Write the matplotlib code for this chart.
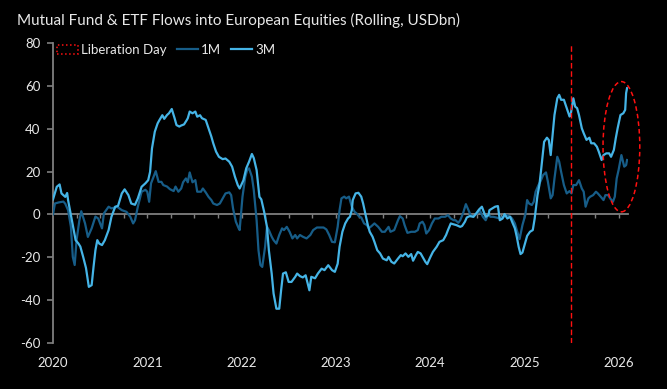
import numpy as np
import matplotlib
matplotlib.use("Agg")
import matplotlib.pyplot as plt
from matplotlib.patches import Ellipse, Patch
from matplotlib.lines import Line2D

plt.rcParams['font.family'] = ['Lato', 'DejaVu Sans']

# --- data (decimal year, USDbn) ---
t_3m = [2020.00, 2020.04, 2020.07, 2020.09, 2020.13, 2020.15, 2020.16, 2020.19, 2020.22, 2020.24,
        2020.27, 2020.29, 2020.32, 2020.35, 2020.38, 2020.41, 2020.43, 2020.45, 2020.47, 2020.49,
        2020.52, 2020.55, 2020.59, 2020.62, 2020.66, 2020.69, 2020.73, 2020.76, 2020.80, 2020.83,
        2020.87, 2020.90, 2020.94, 2020.98, 2021.01, 2021.03, 2021.05, 2021.08, 2021.11, 2021.13,
        2021.16, 2021.18, 2021.21, 2021.23, 2021.26, 2021.29, 2021.31, 2021.34, 2021.36, 2021.39,
        2021.42, 2021.43, 2021.45, 2021.48, 2021.51, 2021.53, 2021.56, 2021.58, 2021.62, 2021.65,
        2021.68, 2021.70, 2021.73, 2021.76, 2021.80, 2021.83, 2021.87, 2021.90, 2021.93, 2021.96,
        2021.98, 2022.02, 2022.05, 2022.08, 2022.11, 2022.13, 2022.16, 2022.19, 2022.21, 2022.24,
        2022.27, 2022.29, 2022.32, 2022.34, 2022.37, 2022.40, 2022.42, 2022.44, 2022.47, 2022.50,
        2022.53, 2022.57, 2022.59, 2022.62, 2022.65, 2022.68, 2022.72, 2022.74, 2022.78, 2022.81,
        2022.85, 2022.88, 2022.92, 2022.96, 2022.99, 2023.02, 2023.04, 2023.07, 2023.10, 2023.13,
        2023.15, 2023.17, 2023.18, 2023.21, 2023.24, 2023.27, 2023.29, 2023.32, 2023.34, 2023.36,
        2023.39, 2023.41, 2023.44, 2023.47, 2023.50, 2023.54, 2023.56, 2023.59, 2023.62, 2023.66,
        2023.69, 2023.71, 2023.74, 2023.77, 2023.80, 2023.82, 2023.85, 2023.87, 2023.90, 2023.93,
        2023.95, 2023.97, 2024.00, 2024.03, 2024.07, 2024.10, 2024.14, 2024.17, 2024.19, 2024.22,
        2024.24, 2024.28, 2024.32, 2024.34, 2024.37, 2024.39, 2024.42, 2024.46, 2024.49, 2024.52,
        2024.55, 2024.57, 2024.59, 2024.62, 2024.63, 2024.66, 2024.69, 2024.72, 2024.74, 2024.77,
        2024.79, 2024.82, 2024.85, 2024.87, 2024.90, 2024.92, 2024.94, 2024.96, 2024.98, 2025.01,
        2025.03, 2025.06, 2025.09, 2025.11, 2025.14, 2025.16, 2025.18, 2025.21, 2025.24, 2025.26,
        2025.28, 2025.30, 2025.32, 2025.35, 2025.37, 2025.39, 2025.42, 2025.45, 2025.48, 2025.49,
        2025.52, 2025.54, 2025.56, 2025.58, 2025.61, 2025.63, 2025.66, 2025.69, 2025.71, 2025.74,
        2025.77, 2025.79, 2025.82, 2025.84, 2025.87, 2025.90, 2025.92, 2025.95, 2025.97, 2025.99,
        2026.02, 2026.05, 2026.07, 2026.08, 2026.09]
v_3m = [7, 12.9, 14, 9.8, 8.2, 10, 6.7, -0.3, -7.3, -12,
        -13.6, -15, -19.8, -25, -33.8, -33, -24.5, -16.7, -12, -13.6,
        -14.3, -12, -7.3, -1.1, 3.6, 4, 9.8, 11.7, 9, 5.1,
        4.5, 7.5, 12.9, 14.5, 16, 19.9, 30.8, 38.6, 42.5, 44.1,
        46.3, 44.6, 46.4, 47.2, 49.2, 44.9, 41.7, 41, 41.5, 42,
        44.1, 44.9, 48, 47.2, 48, 45.6, 46.3, 44.9, 44.1, 40.2,
        36.3, 33.2, 29.3, 26.9, 25.8, 26.1, 24.6, 22.3, 17.6, 13.7,
        12.1, 15.9, 21.5, 24.6, 28.2, 26.3, 20.7, 8.2, 7, 1.2,
        -5.8, -16.7, -27.6, -36.9, -44, -44, -35.4, -27.6, -27, -31.5,
        -31.5, -29.1, -27.6, -28.8, -29.4, -28.4, -35.4, -29.1, -29.8, -27.6,
        -25.3, -26, -23.7, -26, -26.8, -23, -15.1, -8.1, -4.2, -1.9,
        -1.1, 2, 6.7, 9.8, 10.1, 8.3, 5.1, -1.1, -5, -8.1,
        -10.4, -12.8, -16.7, -18.2, -20.6, -21.4, -19.8, -22.1, -22.9, -20.6,
        -19, -19.5, -18.2, -19.8, -18.5, -21.6, -19, -17.5, -18.2, -20.6,
        -22.1, -23.2, -20.2, -17.5, -15.1, -12.8, -12, -9.6, -7.3, -4.2,
        -4.5, -5, -5.8, -5.4, -3.4, -1.4, -0.8, -1.1, 0.5, 2.3,
        3.6, 1.2, -1.1, -0.3, 2, 2.8, 3.6, 3.9, -2.7, -1.9,
        0.2, -1.9, -1.1, -3.4, -6.5, -10.4, -15.1, -18.5, -17.8, -13.2,
        -10, -8.1, -7.3, -1.9, 9, 13.7, 21.5, 33.9, 35.8, 34.7,
        27.7, 37, 46.4, 54.2, 55.8, 53.5, 53.5, 49.6, 45.7, 46.1,
        54.2, 50.3, 49.6, 46.4, 40.2, 37.9, 34.8, 35.8, 33.2, 33.2,
        31.6, 29.3, 25.4, 27.7, 28.5, 28.5, 26.9, 30.1, 35.5, 40.2,
        46.4, 47.2, 48.8, 56.6, 58.9]

t_1m = [2020.00, 2020.02, 2020.06, 2020.11, 2020.13, 2020.16, 2020.19, 2020.21, 2020.23, 2020.25,
        2020.28, 2020.30, 2020.34, 2020.37, 2020.41, 2020.45, 2020.48, 2020.52, 2020.54, 2020.59,
        2020.62, 2020.68, 2020.73, 2020.78, 2020.82, 2020.85, 2020.87, 2020.90, 2020.94, 2020.98,
        2021.00, 2021.02, 2021.04, 2021.06, 2021.09, 2021.12, 2021.15, 2021.17, 2021.21, 2021.24,
        2021.28, 2021.30, 2021.33, 2021.36, 2021.38, 2021.41, 2021.43, 2021.45, 2021.48, 2021.51,
        2021.53, 2021.57, 2021.59, 2021.62, 2021.65, 2021.68, 2021.70, 2021.74, 2021.77, 2021.80,
        2021.83, 2021.87, 2021.89, 2021.91, 2021.94, 2021.97, 2021.98, 2022.01, 2022.04, 2022.06,
        2022.08, 2022.11, 2022.13, 2022.16, 2022.18, 2022.20, 2022.22, 2022.25, 2022.27, 2022.29,
        2022.32, 2022.34, 2022.37, 2022.40, 2022.43, 2022.45, 2022.48, 2022.51, 2022.54, 2022.57,
        2022.59, 2022.62, 2022.65, 2022.69, 2022.73, 2022.76, 2022.80, 2022.83, 2022.87, 2022.90,
        2022.93, 2022.96, 2022.99, 2023.02, 2023.04, 2023.06, 2023.09, 2023.11, 2023.14, 2023.17,
        2023.20, 2023.22, 2023.25, 2023.27, 2023.30, 2023.33, 2023.35, 2023.38, 2023.41, 2023.45,
        2023.49, 2023.52, 2023.56, 2023.58, 2023.62, 2023.66, 2023.68, 2023.71, 2023.73, 2023.76,
        2023.80, 2023.84, 2023.87, 2023.89, 2023.92, 2023.94, 2023.96, 2023.99, 2024.02, 2024.05,
        2024.09, 2024.12, 2024.16, 2024.19, 2024.22, 2024.25, 2024.27, 2024.30, 2024.32, 2024.35,
        2024.38, 2024.40, 2024.43, 2024.46, 2024.49, 2024.53, 2024.56, 2024.59, 2024.62, 2024.64,
        2024.67, 2024.70, 2024.74, 2024.78, 2024.82, 2024.85, 2024.87, 2024.90, 2024.92, 2024.95,
        2024.98, 2025.01, 2025.03, 2025.05, 2025.08, 2025.10, 2025.12, 2025.15, 2025.17, 2025.20,
        2025.23, 2025.25, 2025.28, 2025.30, 2025.32, 2025.35, 2025.37, 2025.39, 2025.42, 2025.45,
        2025.48, 2025.50, 2025.52, 2025.55, 2025.58, 2025.61, 2025.63, 2025.65, 2025.68, 2025.70,
        2025.73, 2025.76, 2025.78, 2025.81, 2025.84, 2025.86, 2025.89, 2025.91, 2025.94, 2025.96,
        2025.98, 2026.00, 2026.03, 2026.06, 2026.08, 2026.09]
v_1m = [0, 5.1, 5.6, 6, 5, 2, -5.8, -19.8, -23.6, -12,
        -2.7, 1.5, -4.2, -10.5, -6.5, -1, -1.9, -6.5, 0.5, 3.6,
        2.8, 3.6, 2, 1.2, -1.1, -4.2, -2.7, 3.6, 10.6, 11.5,
        10.6, 5.9, 14.5, 16.8, 20.2, 15.2, 15.2, 13.7, 13, 11.8,
        10.9, 13, 10.6, 12.1, 15, 16.8, 15, 19.6, 15, 16,
        10.6, 10.6, 12.1, 10.3, 8.2, 6.7, 5.1, 4.4, 5.1, 7.5,
        9.8, 10.3, 9, 2.8, -3.4, -6.5, -7.3, 8.2, 17.6, 20.7,
        21.5, 17.6, 11.4, -2.7, -16.7, -23.6, -24.5, -15.1, -5.8, -7.3,
        -10.4, -12, -13.6, -9.6, -6.5, -7.3, -5.8, -8.1, -11.2, -9.6,
        -11.2, -9.6, -10.4, -11.2, -9.6, -7.3, -6.1, -6.1, -6.1, -7,
        -9.6, -12.8, -13, -5.8, 2, 7.5, 8.3, 7.5, 8.3, 3.6,
        1.2, 0.5, -1.1, -1.4, -4.2, -5, -6.5, -5.4, -4.2, -5.8,
        -8.1, -8.1, -5.8, -8.1, -7.3, -2.7, -0.8, -1.9, -5, -8.6,
        -8.1, -8.1, -7.3, -4.2, -3.4, -5, -8.9, -7.3, -4.2, -1.9,
        -1.9, -1.1, -1.1, -0.3, -1.9, -2.7, -2.7, -3.9, -2.7, 0.5,
        4.8, 2.8, -0.3, -1.1, 0.2, 1.7, -1.1, -2.7, 0.2, -1.1,
        -1.1, -1.4, -1.9, -1.1, -0.3, -1.1, -1.9, -4.2, -7.3, -11.5,
        -5, -0.3, 6.7, 5.1, 4.4, 5.9, 10.6, 13.7, 15.3, 18.4,
        19.6, 15.3, 7.5, 9, 16.8, 26.9, 24.6, 20, 13.7, 9.8,
        10.9, 9.8, 13.7, 13.7, 16, 12.1, 10.6, 3.6, 7.5, 8.3,
        9, 10.6, 9.8, 8.3, 6.7, 9, 9, 7.5, 5.9, 8.3,
        16.8, 20.7, 27.7, 22.3, 23, 25.4]

liberation_day = 2025.49
year_ticks = [2020, 2021, 2022, 2023, 2024, 2025, 2026]
y_ticks = [-60, -40, -20, 0, 20, 40, 60, 80]

c_1m = '#175d88'
c_3m = '#45b4e6'
red = '#ff1010'
grey = '#7f7f7f'
txt = '#e8e8e8'

fig = plt.figure(figsize=(6.67, 3.89), dpi=100, facecolor='black')
ax = fig.add_axes([53/667, 46/389, 575/667, 300/389], facecolor='black')

ax.plot(t_1m, v_1m, color=c_1m, lw=1.6, label='1M', zorder=3)
ax.plot(t_3m, v_3m, color=c_3m, lw=1.6, label='3M', zorder=4)

ax.axvline(liberation_day, color=red, lw=1.0, ls=(0, (4, 2)), zorder=5)
# highlight ellipse around the latest readings (runs past the right edge of the axes)
ax.add_patch(Ellipse((2026.03, 31.6), width=0.39, height=60.8, fill=False, clip_on=False,
                     edgecolor=red, lw=1.1, ls=(0, (3, 2)), zorder=6))

ax.set_xlim(2020, 2026.1)
ax.set_ylim(-60, 80)
ax.set_yticks(y_ticks)
ax.set_yticklabels([str(v) for v in y_ticks], color=txt, fontsize=9.5)
ax.tick_params(axis='y', colors=grey, labelcolor=txt, length=4, width=1.2, pad=5)

# zero line as the x axis, quarterly ticks pointing down
for s in ['top', 'right']:
    ax.spines[s].set_visible(False)
ax.spines['left'].set_color(grey)
ax.spines['left'].set_linewidth(1.3)
ax.spines['bottom'].set_position(('data', 0))
ax.spines['bottom'].set_color(grey)
ax.spines['bottom'].set_linewidth(1.3)
ax.set_xticks(np.arange(2020.25, 2026.01, 0.25))
ax.tick_params(axis='x', colors=grey, length=3, width=1, labelbottom=False)

sec = ax.secondary_xaxis('bottom')
sec.spines['bottom'].set_visible(False)
sec.set_xticks(year_ticks)
sec.set_xticklabels([str(y) for y in year_ticks], color=txt, fontsize=9.5)
sec.tick_params(length=0, pad=10)

fig.text(17/667, 1 - 20/389, 'Mutual Fund & ETF Flows into European Equities (Rolling, USDbn)',
         color=txt, fontsize=11, va='center', ha='left')

handles = [Patch(facecolor='none', edgecolor=red, ls=':', lw=1.1, label='Liberation Day'),
           Line2D([], [], color=c_1m, lw=1.6, label='1M'),
           Line2D([], [], color=c_3m, lw=1.6, label='3M')]
leg = fig.legend(handles=handles, loc='center left', bbox_to_anchor=(57/667, 1 - 50/389),
                 ncol=3, frameon=False, fontsize=9.5, handlelength=1.6, handletextpad=0.2,
                 columnspacing=0.8, borderpad=0, borderaxespad=0)
for t in leg.get_texts():
    t.set_color(txt)

fig.savefig('out.png', dpi=100, facecolor='black')
